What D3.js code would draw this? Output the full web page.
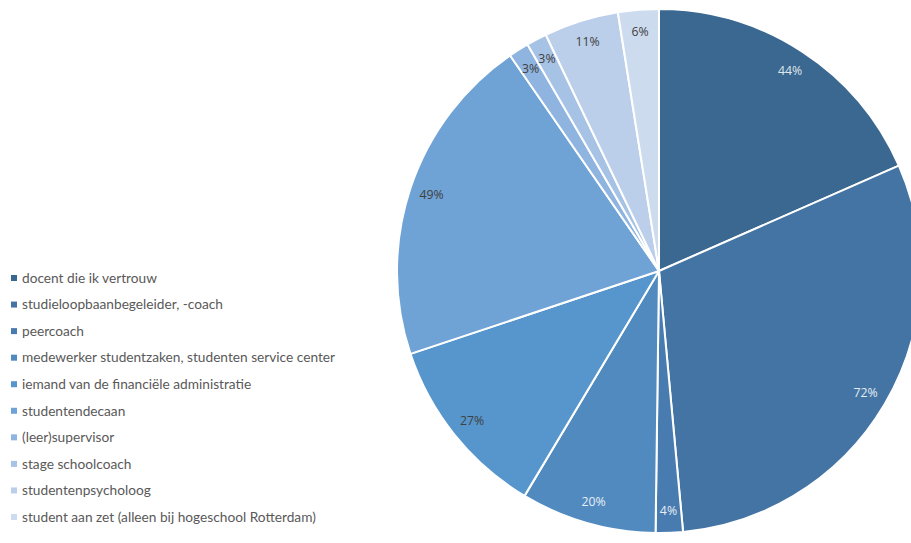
<!DOCTYPE html>
<html><head><meta charset="utf-8">
<script src="https://cdn.jsdelivr.net/npm/d3@7/dist/d3.min.js"></script>
<style>html,body{margin:0;padding:0;background:#fff;overflow:hidden}</style>
</head><body><svg id="c" width="911" height="543"></svg>
<script>
const categories = ["docent die ik vertrouw","studieloopbaanbegeleider, -coach","peercoach","medewerker studentzaken, studenten service center","iemand van de financiële administratie","studentendecaan","(leer)supervisor","stage schoolcoach","studentenpsycholoog","student aan zet (alleen bij hogeschool Rotterdam)"];
const values = [44,72,4,20,27,49,3,3,11,6];
const labels = ["44%","72%","4%","20%","27%","49%","3%","3%","11%","6%"];
const colors = ["#3b6890","#4374a4","#487cb0","#508abf","#5696cc","#6fa3d6","#8fb4df","#a6c2e5","#bbcfea","#cddbef"];
const labelColors = ["#dfe6ee","#e6ecf3","#e6ecf3","#e8eef5","#404040","#404040","#404040","#404040","#404040","#404040"];

const svg = d3.select("#c");
const cx = 659, cy = 271, r = 262;
const pie = d3.pie().sort(null).value(d => d)(values);
const arc = d3.arc().innerRadius(0).outerRadius(r);
const labelArc = d3.arc().innerRadius(r*0.915).outerRadius(r*0.915);
const g = svg.append("g").attr("transform", `translate(${cx},${cy})`);
g.selectAll("path").data(pie).join("path")
  .attr("d", arc).attr("fill", (d,i) => colors[i])
  .attr("stroke", "#fff").attr("stroke-width", 2).attr("stroke-linejoin","round");
g.selectAll("text").data(pie).join("text")
  .attr("transform", d => `translate(${labelArc.centroid(d)})`)
  .attr("text-anchor","middle").attr("dy","0.35em")
  .attr("font-family","'Open Sans', sans-serif").attr("font-size", 12.3)
  .attr("fill", (d,i) => labelColors[i])
  .text((d,i) => labels[i]);

const y = d3.scalePoint().domain(categories).range([278, 517]);
const lg = svg.append("g");
const item = lg.selectAll("g").data(categories).join("g")
  .attr("transform", d => `translate(0,${y(d)})`);
item.append("rect").attr("x", 11).attr("y", -3).attr("width", 6).attr("height", 6)
  .attr("fill", (d,i) => colors[i]);
item.append("text").attr("x", 22).attr("dy","0.35em")
  .attr("font-family","Lato, sans-serif").attr("font-size", 13.7)
  .attr("fill","#595959").text(d => d);
</script></body></html>
